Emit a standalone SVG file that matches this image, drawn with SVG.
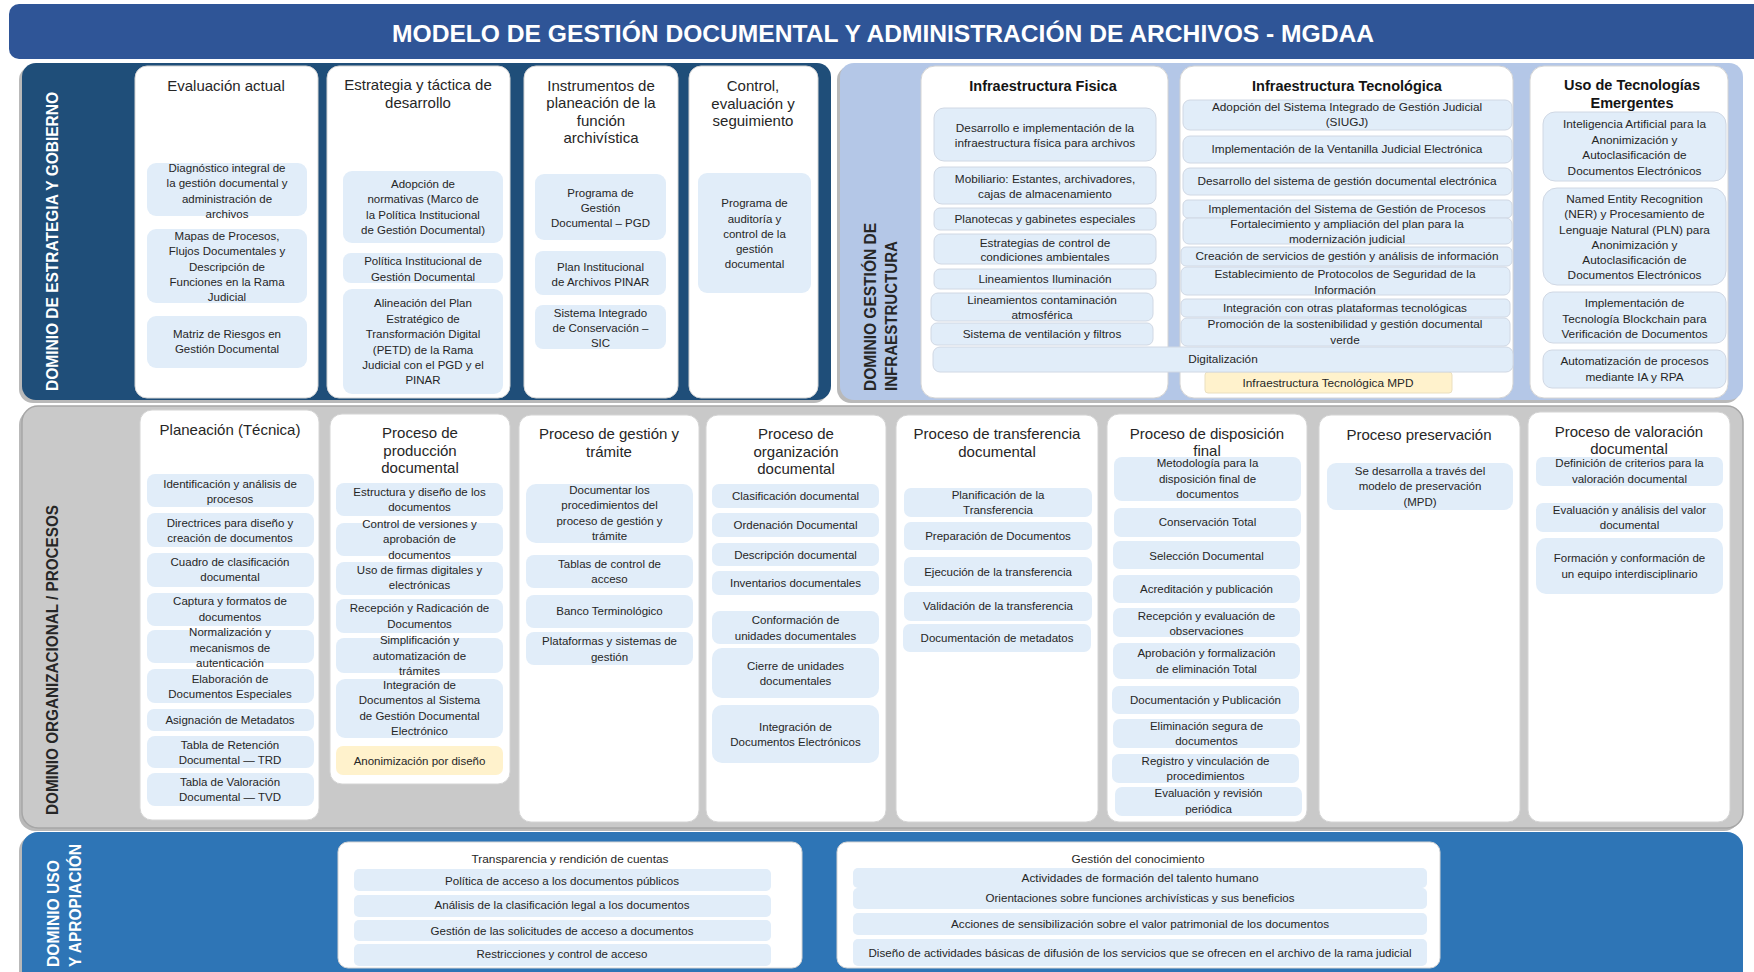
<svg xmlns="http://www.w3.org/2000/svg" width="1754" height="972" viewBox="0 0 1754 972">
<style>
.hdr{font-family:"Liberation Sans",Arial,sans-serif;font-size:15px;fill:#262626;text-anchor:middle}
.bh{font-family:"Liberation Sans",Arial,sans-serif;font-size:14.5px;font-weight:bold;fill:#141414;text-anchor:middle}
.t{font-family:"Liberation Sans",Arial,sans-serif;font-size:11.5px;fill:#262626;text-anchor:middle}
.s{font-size:11.8px}
.b{font-family:"Liberation Sans",Arial,sans-serif;font-size:11px;fill:#262626;text-anchor:middle}
.it{fill:#E1EDF9}
.yl{fill:#FFF2CC}
.card{fill:#ffffff;stroke:#d4d4d4;stroke-width:1}
.vl{font-family:"Liberation Sans",Arial,sans-serif;font-size:16px;font-weight:bold}
.sh{fill:#7f7f7f;opacity:0.55}
</style>

<g id="title">
<rect x="9" y="4" width="1760" height="55" rx="10" fill="#2F5597"/>
<text x="883" y="42" font-family="Liberation Sans, Arial, sans-serif" font-size="24" font-weight="bold" fill="#ffffff" text-anchor="middle" textLength="982" lengthAdjust="spacingAndGlyphs">MODELO DE GESTIÓN DOCUMENTAL Y ADMINISTRACIÓN DE ARCHIVOS - MGDAA</text>
</g>

<!-- Domain: Estrategia y Gobierno -->
<g id="dom-estrategia">
<rect class="sh" x="19" y="66" width="809" height="337" rx="14"/>
<rect x="22" y="63" width="809" height="337" rx="14" fill="#1F4E79"/>
<text class="vl" fill="#ffffff" transform="translate(58,391) rotate(-90)" textLength="299" lengthAdjust="spacingAndGlyphs">DOMINIO DE  ESTRATEGIA Y GOBIERNO</text>
</g>

<g id="card-evaluacion">
<rect class="card" x="135" y="66" width="183" height="332" rx="12"/>
<text class="hdr" x="226" y="91">Evaluación actual</text>
<g id="ev-1"><rect class="it" x="147" y="163" width="160" height="53" rx="9"/>
<text class="t"><tspan x="227" y="172">Diagnóstico integral de</tspan><tspan x="227" y="187">la gestión documental y</tspan><tspan x="227" y="202.5">administración de</tspan><tspan x="227" y="218">archivos</tspan></text></g>
<g id="ev-2"><rect class="it" x="147" y="229" width="160" height="74" rx="9"/>
<text class="t"><tspan x="227" y="240">Mapas de Procesos,</tspan><tspan x="227" y="255">Flujos Documentales y</tspan><tspan x="227" y="271">Descripción de</tspan><tspan x="227" y="286">Funciones en la Rama</tspan><tspan x="227" y="301">Judicial</tspan></text></g>
<g id="ev-3"><rect class="it" x="147" y="316" width="160" height="52" rx="9"/>
<text class="t"><tspan x="227" y="338">Matriz de Riesgos en</tspan><tspan x="227" y="353">Gestión Documental</tspan></text></g>
</g>

<g id="card-estrategia">
<rect class="card" x="327" y="66" width="183" height="332" rx="12"/>
<text class="hdr"><tspan x="418" y="90">Estrategia y táctica de</tspan><tspan x="418" y="108">desarrollo</tspan></text>
<g id="es-1"><rect class="it" x="343" y="171" width="160" height="72" rx="9"/>
<text class="t"><tspan x="423" y="188">Adopción de</tspan><tspan x="423" y="203">normativas (Marco de</tspan><tspan x="423" y="219">la Política Institucional</tspan><tspan x="423" y="234">de Gestión Documental)</tspan></text></g>
<g id="es-2"><rect class="it" x="343" y="253" width="160" height="30" rx="8"/>
<text class="t"><tspan x="423" y="265">Política Institucional de</tspan><tspan x="423" y="281">Gestión Documental</tspan></text></g>
<g id="es-3"><rect class="it" x="343" y="289" width="160" height="105" rx="9"/>
<text class="t"><tspan x="423" y="307">Alineación del Plan</tspan><tspan x="423" y="323">Estratégico de</tspan><tspan x="423" y="338">Transformación Digital</tspan><tspan x="423" y="354">(PETD) de la Rama</tspan><tspan x="423" y="369">Judicial con el PGD y el</tspan><tspan x="423" y="384">PINAR</tspan></text></g>
</g>

<g id="card-instrumentos">
<rect class="card" x="524" y="66" width="154" height="332" rx="12"/>
<text class="hdr"><tspan x="601" y="91">Instrumentos de</tspan><tspan x="601" y="108">planeación de la</tspan><tspan x="601" y="126">función</tspan><tspan x="601" y="143">archivística</tspan></text>
<g id="in-1"><rect class="it" x="535" y="174" width="131" height="66" rx="9"/>
<text class="t"><tspan x="600.5" y="197">Programa de</tspan><tspan x="600.5" y="212">Gestión</tspan><tspan x="600.5" y="227">Documental – PGD</tspan></text></g>
<g id="in-2"><rect class="it" x="535" y="251" width="131" height="44" rx="8"/>
<text class="t"><tspan x="600.5" y="271">Plan Institucional</tspan><tspan x="600.5" y="286">de Archivos PINAR</tspan></text></g>
<g id="in-3"><rect class="it" x="535" y="305" width="131" height="44" rx="8"/>
<text class="t"><tspan x="600.5" y="317">Sistema Integrado</tspan><tspan x="600.5" y="332">de Conservación –</tspan><tspan x="600.5" y="347">SIC</tspan></text></g>
</g>

<g id="card-control">
<rect class="card" x="689" y="66" width="129" height="332" rx="12"/>
<text class="hdr"><tspan x="753" y="91">Control,</tspan><tspan x="753" y="108.5">evaluación y</tspan><tspan x="753" y="126">seguimiento</tspan></text>
<g id="co-1"><rect class="it" x="698" y="173" width="113" height="120" rx="9"/>
<text class="t"><tspan x="754.5" y="207">Programa de</tspan><tspan x="754.5" y="223">auditoría y</tspan><tspan x="754.5" y="238">control de la</tspan><tspan x="754.5" y="253">gestión</tspan><tspan x="754.5" y="268">documental</tspan></text></g>
</g>

<!-- Domain: Infraestructura -->
<g id="dom-infra">
<rect class="sh" x="837" y="66" width="903" height="337" rx="14"/>
<rect x="840" y="63" width="903" height="337" rx="14" fill="#B4C7E7"/>
<text class="vl" fill="#262626" transform="translate(876,391) rotate(-90)" textLength="168" lengthAdjust="spacingAndGlyphs">DOMINIO GESTIÓN DE</text>
<text class="vl" fill="#262626" transform="translate(897,391) rotate(-90)" textLength="150" lengthAdjust="spacingAndGlyphs">INFRAESTRUCTURA</text>
</g>

<g id="card-fisica">
<rect class="card" x="921" y="66" width="247" height="332" rx="14"/>
<text class="bh" x="1043" y="91">Infraestructura Fisica</text>
<g id="fi-1"><rect class="it" x="934" y="108" width="222" height="53" rx="10" stroke="#d0d8e4"/>
<text class="t s"><tspan x="1045" y="132">Desarrollo e implementación de la</tspan><tspan x="1045" y="147">infraestructura física para archivos</tspan></text></g>
<g id="fi-2"><rect class="it" x="934" y="167" width="222" height="37" rx="8" stroke="#d0d8e4"/>
<text class="t s"><tspan x="1045" y="183">Mobiliario: Estantes, archivadores,</tspan><tspan x="1045" y="198">cajas de almacenamiento</tspan></text></g>
<g id="fi-3"><rect class="it" x="934" y="208" width="222" height="22" rx="6" stroke="#d0d8e4"/>
<text class="t s" x="1045" y="223">Planotecas y gabinetes especiales</text></g>
<g id="fi-4"><rect class="it" x="934" y="234" width="222" height="30" rx="7" stroke="#d0d8e4"/>
<text class="t s"><tspan x="1045" y="247">Estrategias de control de</tspan><tspan x="1045" y="261">condiciones ambientales</tspan></text></g>
<g id="fi-5"><rect class="it" x="934" y="269" width="222" height="20" rx="6" stroke="#d0d8e4"/>
<text class="t s" x="1045" y="283">Lineamientos Iluminación</text></g>
<g id="fi-6"><rect class="it" x="931" y="293" width="222" height="28" rx="7" stroke="#d0d8e4"/>
<text class="t s"><tspan x="1042" y="304">Lineamientos contaminación</tspan><tspan x="1042" y="319">atmosférica</tspan></text></g>
<g id="fi-7"><rect class="it" x="931" y="323" width="222" height="22" rx="6" stroke="#d0d8e4"/>
<text class="t s" x="1042" y="338">Sistema de ventilación y filtros</text></g>
</g>

<g id="card-tecnologica">
<rect class="card" x="1180" y="66" width="333" height="332" rx="14"/>
<text class="bh" x="1347" y="91">Infraestructura Tecnológica</text>
<g id="te-1"><rect class="it" x="1183" y="100" width="329" height="30" rx="7" stroke="#d0d8e4"/>
<text class="t s"><tspan x="1347" y="111">Adopción del Sistema Integrado de Gestión Judicial</tspan><tspan x="1347" y="126">(SIUGJ)</tspan></text></g>
<g id="te-2"><rect class="it" x="1183" y="136" width="329" height="27" rx="7" stroke="#d0d8e4"/>
<text class="t s" x="1347" y="153">Implementación de la Ventanilla Judicial Electrónica</text></g>
<g id="te-3"><rect class="it" x="1183" y="168" width="329" height="27" rx="7" stroke="#d0d8e4"/>
<text class="t s" x="1347" y="185">Desarrollo del sistema de gestión documental electrónica</text></g>
<g id="te-4"><rect class="it" x="1183" y="200" width="329" height="18" rx="5" stroke="#d0d8e4"/>
<text class="t s" x="1347" y="213">Implementación del Sistema de Gestión de Procesos</text></g>
<g id="te-5"><rect class="it" x="1183" y="218" width="329" height="26" rx="6" stroke="#d0d8e4"/>
<text class="t s"><tspan x="1347" y="228">Fortalecimiento y ampliación del plan para la</tspan><tspan x="1347" y="243">modernización judicial</tspan></text></g>
<g id="te-6"><rect class="it" x="1181" y="247" width="331" height="19" rx="5" stroke="#d0d8e4"/>
<text class="t s" x="1347" y="260">Creación de servicios de gestión y análisis de información</text></g>
<g id="te-7"><rect class="it" x="1181" y="267" width="329" height="28" rx="6" stroke="#d0d8e4"/>
<text class="t s"><tspan x="1345" y="278">Establecimiento de Protocolos de Seguridad de la</tspan><tspan x="1345" y="294">Información</tspan></text></g>
<g id="te-8"><rect class="it" x="1181" y="299" width="329" height="18" rx="5" stroke="#d0d8e4"/>
<text class="t s" x="1345" y="312">Integración con otras plataformas tecnológicas</text></g>
<g id="te-9"><rect class="it" x="1181" y="318" width="329" height="28" rx="6" stroke="#d0d8e4"/>
<text class="t s"><tspan x="1345" y="328">Promoción de la sostenibilidad y gestión documental</tspan><tspan x="1345" y="344">verde</tspan></text></g>
<g id="te-mpd"><rect class="yl" x="1205" y="372" width="247" height="21" rx="3" stroke="#eadfbf"/>
<text class="t s" x="1328" y="387">Infraestructura Tecnológica MPD</text></g>
</g>

<g id="digitalizacion">
<rect class="it" x="933" y="347" width="580" height="25" rx="7" stroke="#d0d8e4"/>
<text class="t s" x="1223" y="363">Digitalización</text>
</g>

<g id="card-emergentes">
<rect class="card" x="1530" y="66" width="198" height="332" rx="14"/>
<text class="bh"><tspan x="1632" y="90">Uso de Tecnologías</tspan><tspan x="1632" y="108">Emergentes</tspan></text>
<g id="em-1"><rect class="it" x="1543" y="112" width="183" height="69" rx="12" stroke="#d0d8e4"/>
<text class="t s"><tspan x="1634.5" y="128">Inteligencia Artificial para la</tspan><tspan x="1634.5" y="144">Anonimización y</tspan><tspan x="1634.5" y="159">Autoclasificación de</tspan><tspan x="1634.5" y="175">Documentos Electrónicos</tspan></text></g>
<g id="em-2"><rect class="it" x="1543" y="188" width="183" height="97" rx="14" stroke="#d0d8e4"/>
<text class="t s"><tspan x="1634.5" y="203">Named Entity Recognition</tspan><tspan x="1634.5" y="218">(NER) y Procesamiento de</tspan><tspan x="1634.5" y="234">Lenguaje Natural (PLN) para</tspan><tspan x="1634.5" y="249">Anonimización y</tspan><tspan x="1634.5" y="264">Autoclasificación de</tspan><tspan x="1634.5" y="279">Documentos Electrónicos</tspan></text></g>
<g id="em-3"><rect class="it" x="1543" y="292" width="183" height="51" rx="10" stroke="#d0d8e4"/>
<text class="t s"><tspan x="1634.5" y="307">Implementación de</tspan><tspan x="1634.5" y="323">Tecnología Blockchain para</tspan><tspan x="1634.5" y="338">Verificación de Documentos</tspan></text></g>
<g id="em-4"><rect class="it" x="1543" y="350" width="183" height="38" rx="9" stroke="#d0d8e4"/>
<text class="t s"><tspan x="1634.5" y="365">Automatización de procesos</tspan><tspan x="1634.5" y="381">mediante IA y RPA</tspan></text></g>
</g>

<!-- Domain: Procesos -->
<g id="dom-procesos">
<rect class="sh" x="19" y="409" width="1721" height="422" rx="16"/>
<rect x="22" y="406" width="1721" height="422" rx="16" fill="#C9C9C9" stroke="#a6a6a6" stroke-width="1.5"/>
<text class="vl" fill="#262626" transform="translate(58,815) rotate(-90)" textLength="310" lengthAdjust="spacingAndGlyphs">DOMINIO ORGANIZACIONAL / PROCESOS</text>
</g>

<g id="card-planeacion">
<rect class="card" x="140" y="410" width="179" height="410" rx="12"/>
<text class="hdr" x="230" y="435">Planeación (Técnica)</text>
<g id="pl-1"><rect class="it" x="147" y="474" width="167" height="33" rx="8"/><text class="t"><tspan x="230" y="488">Identificación y análisis de</tspan><tspan x="230" y="503">procesos</tspan></text></g>
<g id="pl-2"><rect class="it" x="147" y="513" width="167" height="34" rx="8"/><text class="t"><tspan x="230" y="527">Directrices para diseño y</tspan><tspan x="230" y="542">creación de documentos</tspan></text></g>
<g id="pl-3"><rect class="it" x="147" y="553" width="167" height="34" rx="8"/><text class="t"><tspan x="230" y="566">Cuadro de clasificación</tspan><tspan x="230" y="581">documental</tspan></text></g>
<g id="pl-4"><rect class="it" x="147" y="593" width="167" height="33" rx="8"/><text class="t"><tspan x="230" y="605">Captura y formatos de</tspan><tspan x="230" y="621">documentos</tspan></text></g>
<g id="pl-5"><rect class="it" x="147" y="630" width="167" height="33" rx="8"/><text class="t"><tspan x="230" y="636">Normalización y</tspan><tspan x="230" y="652">mecanismos de</tspan><tspan x="230" y="667">autenticación</tspan></text></g>
<g id="pl-6"><rect class="it" x="147" y="669" width="167" height="34" rx="8"/><text class="t"><tspan x="230" y="683">Elaboración de</tspan><tspan x="230" y="698">Documentos Especiales</tspan></text></g>
<g id="pl-7"><rect class="it" x="147" y="709" width="167" height="22" rx="7"/><text class="t" x="230" y="724">Asignación de Metadatos</text></g>
<g id="pl-8"><rect class="it" x="147" y="736" width="167" height="32" rx="8"/><text class="t"><tspan x="230" y="749">Tabla de Retención</tspan><tspan x="230" y="764">Documental — TRD</tspan></text></g>
<g id="pl-9"><rect class="it" x="147" y="773" width="167" height="33" rx="8"/><text class="t"><tspan x="230" y="786">Tabla de Valoración</tspan><tspan x="230" y="801">Documental — TVD</tspan></text></g>
</g>

<g id="card-produccion">
<rect class="card" x="330" y="414" width="180" height="370" rx="12"/>
<text class="hdr"><tspan x="420" y="438">Proceso de</tspan><tspan x="420" y="456">producción</tspan><tspan x="420" y="473">documental</tspan></text>
<g id="pr-1"><rect class="it" x="336" y="483" width="167" height="33" rx="8"/><text class="t"><tspan x="419.5" y="496">Estructura y diseño de los</tspan><tspan x="419.5" y="511">documentos</tspan></text></g>
<g id="pr-2"><rect class="it" x="336" y="523" width="167" height="33" rx="8"/><text class="t"><tspan x="419.5" y="528">Control de versiones y</tspan><tspan x="419.5" y="543">aprobación de</tspan><tspan x="419.5" y="559">documentos</tspan></text></g>
<g id="pr-3"><rect class="it" x="336" y="562" width="167" height="33" rx="8"/><text class="t"><tspan x="419.5" y="574">Uso de firmas digitales y</tspan><tspan x="419.5" y="589">electrónicas</tspan></text></g>
<g id="pr-4"><rect class="it" x="336" y="599" width="167" height="34" rx="8"/><text class="t"><tspan x="419.5" y="612">Recepción y Radicación de</tspan><tspan x="419.5" y="628">Documentos</tspan></text></g>
<g id="pr-5"><rect class="it" x="336" y="638" width="167" height="35" rx="8"/><text class="t"><tspan x="419.5" y="644">Simplificación y</tspan><tspan x="419.5" y="660">automatización de</tspan><tspan x="419.5" y="675">trámites</tspan></text></g>
<g id="pr-6"><rect class="it" x="336" y="679" width="167" height="59" rx="9"/><text class="t"><tspan x="419.5" y="689">Integración de</tspan><tspan x="419.5" y="704">Documentos al Sistema</tspan><tspan x="419.5" y="720">de Gestión Documental</tspan><tspan x="419.5" y="735">Electrónico</tspan></text></g>
<g id="pr-7"><rect class="yl" x="336" y="746" width="167" height="29" rx="7"/><text class="t" x="419.5" y="765">Anonimización por diseño</text></g>
</g>

<g id="card-gestion">
<rect class="card" x="519" y="415" width="180" height="407" rx="12"/>
<text class="hdr"><tspan x="609" y="439">Proceso de gestión y</tspan><tspan x="609" y="457">trámite</tspan></text>
<g id="ge-1"><rect class="it" x="526" y="484" width="167" height="59" rx="10"/><text class="t"><tspan x="609.5" y="494">Documentar los</tspan><tspan x="609.5" y="509">procedimientos del</tspan><tspan x="609.5" y="525">proceso de gestión y</tspan><tspan x="609.5" y="540">trámite</tspan></text></g>
<g id="ge-2"><rect class="it" x="526" y="555" width="167" height="33" rx="8"/><text class="t"><tspan x="609.5" y="568">Tablas de control de</tspan><tspan x="609.5" y="583">acceso</tspan></text></g>
<g id="ge-3"><rect class="it" x="526" y="595" width="167" height="33" rx="8"/><text class="t" x="609.5" y="615">Banco Terminológico</text></g>
<g id="ge-4"><rect class="it" x="526" y="632" width="167" height="33" rx="8"/><text class="t"><tspan x="609.5" y="645">Plataformas y sistemas de</tspan><tspan x="609.5" y="661">gestión</tspan></text></g>
</g>

<g id="card-organizacion">
<rect class="card" x="706" y="415" width="180" height="407" rx="12"/>
<text class="hdr"><tspan x="796" y="439">Proceso de</tspan><tspan x="796" y="457">organización</tspan><tspan x="796" y="474">documental</tspan></text>
<g id="or-1"><rect class="it" x="712" y="484" width="167" height="24" rx="7"/><text class="t" x="795.5" y="500">Clasificación documental</text></g>
<g id="or-2"><rect class="it" x="712" y="513" width="167" height="24" rx="7"/><text class="t" x="795.5" y="529">Ordenación Documental</text></g>
<g id="or-3"><rect class="it" x="712" y="543" width="167" height="23" rx="7"/><text class="t" x="795.5" y="559">Descripción documental</text></g>
<g id="or-4"><rect class="it" x="712" y="571" width="167" height="24" rx="7"/><text class="t" x="795.5" y="587">Inventarios documentales</text></g>
<g id="or-5"><rect class="it" x="712" y="611" width="167" height="33" rx="8"/><text class="t"><tspan x="795.5" y="624">Conformación de</tspan><tspan x="795.5" y="640">unidades documentales</tspan></text></g>
<g id="or-6"><rect class="it" x="712" y="648" width="167" height="50" rx="10"/><text class="t"><tspan x="795.5" y="670">Cierre de unidades</tspan><tspan x="795.5" y="685">documentales</tspan></text></g>
<g id="or-7"><rect class="it" x="712" y="705" width="167" height="58" rx="10"/><text class="t"><tspan x="795.5" y="731">Integración de</tspan><tspan x="795.5" y="746">Documentos Electrónicos</tspan></text></g>
</g>

<g id="card-transferencia">
<rect class="card" x="896" y="415" width="202" height="407" rx="12"/>
<text class="hdr"><tspan x="997" y="439">Proceso de transferencia</tspan><tspan x="997" y="457">documental</tspan></text>
<g id="tr-1"><rect class="it" x="904" y="488" width="188" height="29" rx="7"/><text class="t"><tspan x="998" y="499">Planificación de la</tspan><tspan x="998" y="514">Transferencia</tspan></text></g>
<g id="tr-2"><rect class="it" x="904" y="522" width="188" height="28" rx="7"/><text class="t" x="998" y="540">Preparación de Documentos</text></g>
<g id="tr-3"><rect class="it" x="904" y="557" width="188" height="29" rx="7"/><text class="t" x="998" y="576">Ejecución de la transferencia</text></g>
<g id="tr-4"><rect class="it" x="904" y="592" width="188" height="29" rx="7"/><text class="t" x="998" y="610">Validación de la transferencia</text></g>
<g id="tr-5"><rect class="it" x="903" y="624" width="188" height="28" rx="7"/><text class="t" x="997" y="642">Documentación de metadatos</text></g>
</g>

<g id="card-disposicion">
<rect class="card" x="1107" y="414" width="200" height="408" rx="12"/>
<text class="hdr"><tspan x="1207" y="439">Proceso de disposición</tspan><tspan x="1207" y="456">final</tspan></text>
<g id="di-1"><rect class="it" x="1114" y="457" width="187" height="44" rx="8"/><text class="t"><tspan x="1207.5" y="467">Metodología para la</tspan><tspan x="1207.5" y="483">disposición final de</tspan><tspan x="1207.5" y="498">documentos</tspan></text></g>
<g id="di-2"><rect class="it" x="1114" y="508" width="187" height="29" rx="7"/><text class="t" x="1207.5" y="526">Conservación Total</text></g>
<g id="di-3"><rect class="it" x="1113" y="541" width="187" height="28" rx="7"/><text class="t" x="1206.5" y="560">Selección Documental</text></g>
<g id="di-4"><rect class="it" x="1113" y="575" width="187" height="28" rx="7"/><text class="t" x="1206.5" y="593">Acreditación y publicación</text></g>
<g id="di-5"><rect class="it" x="1113" y="608" width="187" height="29" rx="7"/><text class="t"><tspan x="1206.5" y="620">Recepción y evaluación de</tspan><tspan x="1206.5" y="635">observaciones</tspan></text></g>
<g id="di-6"><rect class="it" x="1113" y="643" width="187" height="36" rx="8"/><text class="t"><tspan x="1206.5" y="657">Aprobación y formalización</tspan><tspan x="1206.5" y="673">de eliminación Total</tspan></text></g>
<g id="di-7"><rect class="it" x="1112" y="686" width="187" height="28" rx="7"/><text class="t" x="1205.5" y="704">Documentación y Publicación</text></g>
<g id="di-8"><rect class="it" x="1113" y="719" width="187" height="29" rx="7"/><text class="t"><tspan x="1206.5" y="730">Eliminación segura de</tspan><tspan x="1206.5" y="745">documentos</tspan></text></g>
<g id="di-9"><rect class="it" x="1112" y="754" width="187" height="29" rx="7"/><text class="t"><tspan x="1205.5" y="765">Registro y vinculación de</tspan><tspan x="1205.5" y="780">procedimientos</tspan></text></g>
<g id="di-10"><rect class="it" x="1115" y="787" width="187" height="29" rx="7"/><text class="t"><tspan x="1208.5" y="797">Evaluación y revisión</tspan><tspan x="1208.5" y="813">periódica</tspan></text></g>
</g>

<g id="card-preservacion">
<rect class="card" x="1319" y="415" width="201" height="407" rx="12"/>
<text class="hdr" x="1419" y="440">Proceso preservación</text>
<g id="ps-1"><rect class="it" x="1327" y="463" width="186" height="47" rx="9"/><text class="t"><tspan x="1420" y="475">Se desarrolla a través del</tspan><tspan x="1420" y="490">modelo de preservación</tspan><tspan x="1420" y="506">(MPD)</tspan></text></g>
</g>

<g id="card-valoracion">
<rect class="card" x="1528" y="412" width="202" height="410" rx="12"/>
<text class="hdr"><tspan x="1629" y="437">Proceso de valoración</tspan><tspan x="1629" y="454">documental</tspan></text>
<g id="va-1"><rect class="it" x="1536" y="457" width="187" height="29" rx="7"/><text class="t"><tspan x="1629.5" y="467">Definición de criterios para la</tspan><tspan x="1629.5" y="483">valoración documental</tspan></text></g>
<g id="va-2"><rect class="it" x="1536" y="503" width="187" height="29" rx="7"/><text class="t"><tspan x="1629.5" y="514">Evaluación y análisis del valor</tspan><tspan x="1629.5" y="529">documental</tspan></text></g>
<g id="va-3"><rect class="it" x="1536" y="538" width="187" height="56" rx="10"/><text class="t"><tspan x="1629.5" y="562">Formación y conformación de</tspan><tspan x="1629.5" y="578">un equipo interdisciplinario</tspan></text></g>
</g>

<!-- Domain: Uso y Apropiación -->
<g id="dom-uso">
<rect class="sh" x="19" y="835" width="1721" height="160" rx="16"/>
<rect x="22" y="832" width="1721" height="160" rx="16" fill="#2E75B6"/>
<text class="vl" fill="#ffffff" transform="translate(59,967) rotate(-90)" textLength="107" lengthAdjust="spacingAndGlyphs">DOMINIO USO</text>
<text class="vl" fill="#ffffff" transform="translate(81,967) rotate(-90)" textLength="123" lengthAdjust="spacingAndGlyphs">Y APROPIACIÓN</text>
</g>

<g id="card-transparencia">
<rect class="card" x="338" y="842" width="464" height="126" rx="10"/>
<text class="b" x="570" y="863" textLength="197" lengthAdjust="spacingAndGlyphs">Transparencia  y rendición de cuentas</text>
<g id="tp-1"><rect class="it" x="354" y="869" width="417" height="22" rx="5"/><text class="b" x="562" y="885" textLength="234" lengthAdjust="spacingAndGlyphs">Política de acceso a los documentos públicos</text></g>
<g id="tp-2"><rect class="it" x="354" y="895" width="417" height="22" rx="5"/><text class="b" x="562" y="909" textLength="255" lengthAdjust="spacingAndGlyphs">Análisis de la clasificación legal a los documentos</text></g>
<g id="tp-3"><rect class="it" x="354" y="920" width="417" height="21" rx="5"/><text class="b" x="562" y="935" textLength="263" lengthAdjust="spacingAndGlyphs">Gestión de las solicitudes de acceso a documentos</text></g>
<g id="tp-4"><rect class="it" x="354" y="944" width="417" height="22" rx="5"/><text class="b" x="562" y="958" textLength="171" lengthAdjust="spacingAndGlyphs">Restricciones y control de acceso</text></g>
</g>

<g id="card-conocimiento">
<rect class="card" x="837" y="842" width="603" height="126" rx="10"/>
<text class="b" x="1138" y="863" textLength="133" lengthAdjust="spacingAndGlyphs">Gestión del conocimiento</text>
<g id="gc-1"><rect class="it" x="853" y="868" width="574" height="20" rx="5"/><text class="b" x="1140" y="882" textLength="237" lengthAdjust="spacingAndGlyphs">Actividades de formación del talento humano</text></g>
<g id="gc-2"><rect class="it" x="853" y="888" width="574" height="21" rx="5"/><text class="b" x="1140" y="902" textLength="309" lengthAdjust="spacingAndGlyphs">Orientaciones sobre funciones archivísticas y sus beneficios</text></g>
<g id="gc-3"><rect class="it" x="853" y="913" width="574" height="22" rx="5"/><text class="b" x="1140" y="928" textLength="378" lengthAdjust="spacingAndGlyphs">Acciones de sensibilización sobre el valor patrimonial de los documentos</text></g>
<g id="gc-4"><rect class="it" x="853" y="939" width="574" height="27" rx="5"/><text class="b" x="1140" y="957" textLength="543" lengthAdjust="spacingAndGlyphs">Diseño de actividades básicas de difusión de los servicios que se ofrecen en el archivo de la rama judicial</text></g>
</g>

<g id="connectors"></g>
</svg>
